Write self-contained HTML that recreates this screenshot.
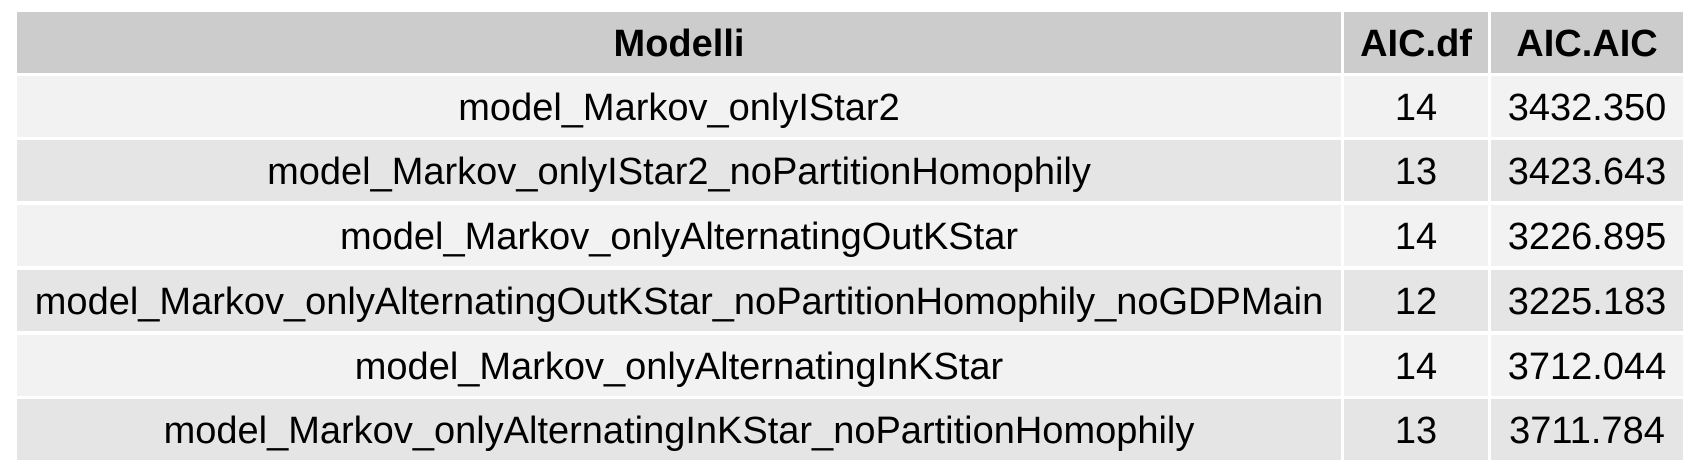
<!DOCTYPE html>
<html><head><meta charset="utf-8"><style>
body{margin:0;background:#fff;width:1700px;height:470px;position:relative;overflow:hidden;font-family:"Liberation Sans",Arial,sans-serif;}
.c{position:absolute;height:61px;line-height:64px;text-align:center;font-size:38px;color:#000;white-space:nowrap;}
.h{background:#cccccc;font-weight:bold;}
.o{background:#f2f2f2;}
.e{background:#e5e5e5;}
</style></head><body>
<div class="c h" style="left:17px;top:12px;width:1324px">Modelli</div>
<div class="c h" style="left:1344px;top:12px;width:144px">AIC.df</div>
<div class="c h" style="left:1491px;top:12px;width:192px">AIC.AIC</div>

<div class="c o" style="left:17px;top:76px;width:1324px">model_Markov_onlyIStar2</div>
<div class="c o" style="left:1344px;top:76px;width:144px">14</div>
<div class="c o" style="left:1491px;top:76px;width:192px">3432.350</div>

<div class="c e" style="left:17px;top:140px;width:1324px">model_Markov_onlyIStar2_noPartitionHomophily</div>
<div class="c e" style="left:1344px;top:140px;width:144px">13</div>
<div class="c e" style="left:1491px;top:140px;width:192px">3423.643</div>

<div class="c o" style="left:17px;top:205px;width:1324px">model_Markov_onlyAlternatingOutKStar</div>
<div class="c o" style="left:1344px;top:205px;width:144px">14</div>
<div class="c o" style="left:1491px;top:205px;width:192px">3226.895</div>

<div class="c e" style="left:17px;top:270px;width:1324px">model_Markov_onlyAlternatingOutKStar_noPartitionHomophily_noGDPMain</div>
<div class="c e" style="left:1344px;top:270px;width:144px">12</div>
<div class="c e" style="left:1491px;top:270px;width:192px">3225.183</div>

<div class="c o" style="left:17px;top:335px;width:1324px">model_Markov_onlyAlternatingInKStar</div>
<div class="c o" style="left:1344px;top:335px;width:144px">14</div>
<div class="c o" style="left:1491px;top:335px;width:192px">3712.044</div>

<div class="c e" style="left:17px;top:399px;width:1324px">model_Markov_onlyAlternatingInKStar_noPartitionHomophily</div>
<div class="c e" style="left:1344px;top:399px;width:144px">13</div>
<div class="c e" style="left:1491px;top:399px;width:192px">3711.784</div>
</body></html>
